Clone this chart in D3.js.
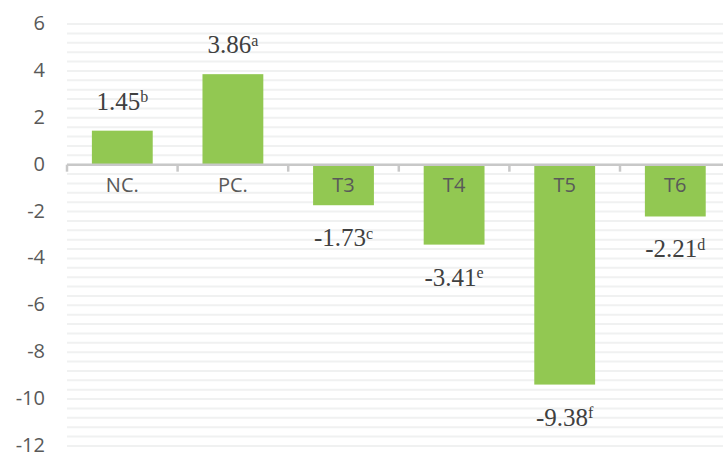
<!DOCTYPE html>
<html>
<head>
<meta charset="utf-8">
<script src="https://cdn.jsdelivr.net/npm/d3@7"></script>
<style>
  body { margin: 0; background: #fff; }
</style>
</head>
<body>
<div id="chart"></div>
<script>
// Data
const categories = ["NC.", "PC.", "T3", "T4", "T5", "T6"];
const values = [1.45, 3.86, -1.73, -3.41, -9.38, -2.21];
const letters = ["b", "a", "c", "e", "f", "d"];
const yTicks = [6, 4, 2, 0, -2, -4, -6, -8, -10, -12];

const W = 723, H = 455;
const margin = {top: 24, left: 67};
// plot runs a bit past the right edge of the window
const plotW = 6 * 110.6;

const svg = d3.select("#chart")
  .append("svg")
  .attr("width", W)
  .attr("height", H);

const x = d3.scaleBand()
  .domain(categories)
  .range([margin.left, margin.left + plotW])
  .paddingInner(0.45)
  .paddingOuter(0.225);

// outer band positions (for tick marks)
const slot = plotW / categories.length;

const y = d3.scaleLinear()
  .domain([6, -12])
  .range([margin.top, 446]);

// light gridlines every 0.4
const gridVals = d3.range(0, 46).map(i => 6 - i * 0.4);
svg.append("g")
  .selectAll("line")
  .data(gridVals)
  .enter().append("line")
  .attr("x1", margin.left)
  .attr("x2", W)
  .attr("y1", d => y(d))
  .attr("y2", d => y(d))
  .attr("stroke", "#f0f1f1")
  .attr("stroke-width", 2);

// y-axis labels
svg.append("g")
  .selectAll("text")
  .data(yTicks)
  .enter().append("text")
  .attr("x", 45)
  .attr("y", d => y(d))
  .attr("dy", "0.3em")
  .attr("text-anchor", "end")
  .attr("font-family", "Open Sans, sans-serif")
  .attr("font-size", 20)
  .attr("fill", "#595959")
  .text(d => d);

// bars
svg.selectAll(".bar")
  .data(values)
  .enter().append("rect")
  .attr("class", "bar")
  .attr("x", (d, i) => x(categories[i]))
  .attr("width", x.bandwidth())
  .attr("y", d => y(Math.max(0, d)))
  .attr("height", d => Math.abs(y(d) - y(0)))
  .attr("fill", "#92c852");

// zero axis line with tick marks
svg.append("line")
  .attr("x1", margin.left)
  .attr("x2", W)
  .attr("y1", y(0))
  .attr("y2", y(0))
  .attr("stroke", "#c8c8c8")
  .attr("stroke-width", 2.5);

svg.append("g")
  .selectAll("line")
  .data(d3.range(categories.length + 1))
  .enter().append("line")
  .attr("x1", i => margin.left + i * slot)
  .attr("x2", i => margin.left + i * slot)
  .attr("y1", y(0))
  .attr("y2", y(0) + 7)
  .attr("stroke", "#c8c8c8")
  .attr("stroke-width", 2.5);

// category labels
svg.append("g")
  .selectAll("text")
  .data(categories)
  .enter().append("text")
  .attr("x", d => x(d) + x.bandwidth() / 2)
  .attr("y", 185)
  .attr("dy", "0.36em")
  .attr("text-anchor", "middle")
  .attr("font-family", "Open Sans, sans-serif")
  .attr("font-size", 20)
  .attr("fill", "#595959")
  .text(d => d);

// value labels with superscript letters
const lbl = svg.append("g")
  .selectAll("text")
  .data(values)
  .enter().append("text")
  .attr("x", (d, i) => x(categories[i]) + x.bandwidth() / 2)
  .attr("y", d => d >= 0 ? y(d) - 30 : y(d) + 32)
  .attr("dy", "0.36em")
  .attr("text-anchor", "middle")
  .attr("font-family", "Liberation Serif, Times New Roman, serif")
  .attr("font-size", 25)
  .attr("fill", "#404040");

lbl.append("tspan")
  .text(d => d.toFixed(2));
lbl.append("tspan")
  .attr("dy", "-0.45em")
  .attr("font-size", 16)
  .text((d, i) => letters[i]);
</script>
</body>
</html>
